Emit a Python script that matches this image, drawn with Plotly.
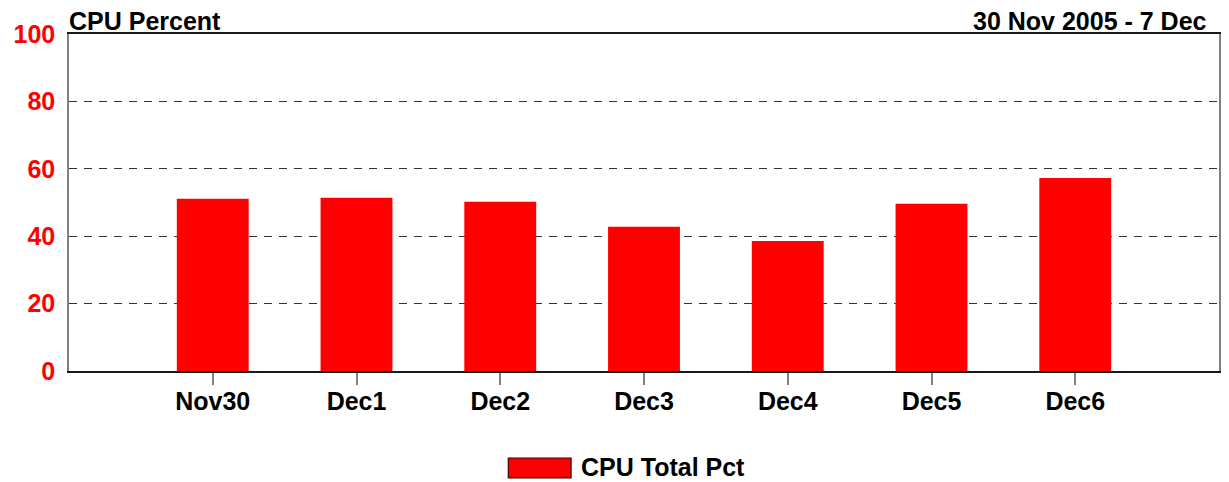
import plotly.graph_objects as go

categories = ["Nov30", "Dec1", "Dec2", "Dec3", "Dec4", "Dec5", "Dec6"]
cpu_total_pct = [51.1, 51.4, 50.2, 42.8, 38.6, 49.6, 57.3]
y_ticks = [0, 20, 40, 60, 80, 100]
series_name = "CPU Total Pct"
title_left = "CPU Percent"
title_right = "30 Nov 2005 - 7 Dec"

FONT = "Liberation Sans, Arial, sans-serif"
RED = "#ff0000"

fig = go.Figure()
fig.add_trace(go.Bar(
    x=list(range(len(categories))),
    y=cpu_total_pct,
    width=0.5,
    marker=dict(color=RED, line=dict(width=0)),
    name=series_name,
    showlegend=False,
))

# page body has an 8px margin, so the figure is sized to fit the window
fig.update_layout(
    width=1213, height=474,
    margin=dict(l=61, r=0, t=26, b=111),
    paper_bgcolor="white", plot_bgcolor="white",
    font=dict(family=FONT, size=25, color="black"),
    bargap=0.5,
)

fig.update_xaxes(
    range=[-1, 7],
    tickmode="array",
    tickvals=list(range(len(categories))),
    ticktext=[f"<b>{c}</b>" for c in categories],
    ticks="outside", ticklen=12, tickcolor="#808080", tickwidth=2,
    showline=True, linecolor="#1a1a1a", linewidth=1.5, mirror=True,
    showgrid=False, zeroline=False,
    tickfont=dict(family=FONT, size=25, color="black"),
    ticklabelstandoff=-5,
)
fig.update_yaxes(
    range=[0, 100],
    tickmode="array",
    tickvals=y_ticks,
    ticktext=[f"<b>{v}</b>" for v in y_ticks],
    ticks="", showline=True, linecolor="#808080", linewidth=1.5, mirror=True,
    showgrid=True, gridcolor="#333333", gridwidth=1, griddash="8px,7px",
    zeroline=False,
    tickfont=dict(family=FONT, size=25, color=RED),
    ticklabelstandoff=7,
)

fig.add_annotation(
    text=f"<b>{title_left}</b>", xref="paper", yref="paper",
    x=0, y=1, xanchor="left", yanchor="bottom", showarrow=False,
    font=dict(family=FONT, size=25, color="black"), yshift=-3, xshift=-2,
)
fig.add_annotation(
    text=f"<b>{title_right}</b>", xref="paper", yref="paper",
    x=0.991, y=1, xanchor="right", yanchor="bottom", showarrow=False,
    font=dict(family=FONT, size=25, color="black"), yshift=-3,
)

# Legend (drawn manually to match large swatch)
fig.add_shape(
    type="rect", xref="paper", yref="paper",
    x0=0.382, x1=0.4366, y0=-0.3175, y1=-0.2582,
    fillcolor=RED, line=dict(color="#3a0000", width=1.2),
)
fig.add_annotation(
    text=f"<b>{series_name}</b>", xref="paper", yref="paper",
    x=0.4436, y=-0.285, xanchor="left", yanchor="middle", showarrow=False,
    font=dict(family=FONT, size=25, color="black"),
)

fig.write_html("out.html")
